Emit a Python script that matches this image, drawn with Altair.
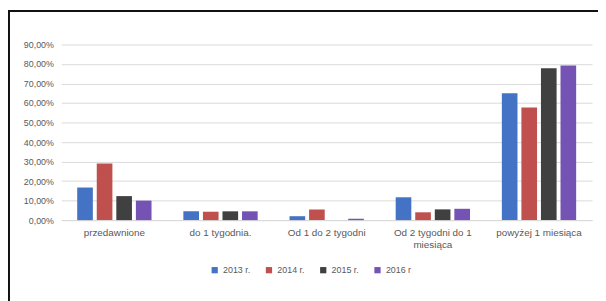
import altair as alt
import pandas as pd

categories = ["przedawnione", "do 1 tygodnia.", "Od 1 do 2 tygodni", "Od 2 tygodni do 1 miesiąca", "powyżej 1 miesiąca"]
years = ["2013 r.", "2014 r.", "2015 r.", "2016 r"]
v2013 = [0.167, 0.045, 0.020, 0.117, 0.650]
v2014 = [0.290, 0.043, 0.055, 0.040, 0.577]
v2015 = [0.123, 0.045, 0.000, 0.055, 0.778]
v2016 = [0.100, 0.045, 0.007, 0.058, 0.792]
colors = ["#4472C4", "#C0504D", "#404040", "#7453B5"]
y_ticks = [0, 0.1, 0.2, 0.3, 0.4, 0.5, 0.6, 0.7, 0.8, 0.9]

rows = []
for series, vals in zip(years, [v2013, v2014, v2015, v2016]):
    for c, v in zip(categories, vals):
        rows.append({"kat": c, "rok": series, "val": v})
df = pd.DataFrame(rows)

W, H = 538, 178
PL, PT = 54, 35

bars = alt.Chart(df).mark_bar().encode(
    x=alt.X("kat:N", sort=categories, title=None,
            scale=alt.Scale(paddingInner=0.3, paddingOuter=0.15),
            axis=alt.Axis(labelAngle=0, ticks=False, domainColor="#D9D9D9",
                          labelColor="#595959", labelFontSize=10, labelFont="Liberation Sans",
                          labelPadding=8, labelLimit=200,
                          labelExpr="datum.value == 'Od 2 tygodni do 1 miesiąca' ? ['Od 2 tygodni do 1', 'miesiąca'] : datum.value")),
    xOffset=alt.XOffset("rok:N", sort=years, scale=alt.Scale(paddingInner=0.2)),
    y=alt.Y("val:Q", title=None,
            scale=alt.Scale(domain=[0, 0.9], nice=False),
            axis=alt.Axis(values=y_ticks, domain=False, ticks=False, gridColor="#D9D9D9",
                          labelColor="#595959", labelFontSize=9, labelFont="Liberation Sans",
                          labelPadding=8,
                          labelExpr="replace(format(datum.value, '.2%'), '.', ',')")),
    color=alt.Color("rok:N", sort=years, title=None,
                    scale=alt.Scale(domain=years, range=colors),
                    legend=alt.Legend(orient="none", direction="horizontal", legendX=151, legendY=224,
                                      symbolType="square", symbolSize=40, symbolStrokeWidth=0,
                                      labelColor="#595959", labelFontSize=9, labelFont="Liberation Sans",
                                      columnPadding=14)),
)

frame_left = alt.Chart(pd.DataFrame({"a": [0]})).mark_rule(color="#111111", strokeWidth=2).encode(
    x=alt.value(-PL + 1), y=alt.value(-PT), y2=alt.value(H + 100))
frame_top = alt.Chart(pd.DataFrame({"a": [0]})).mark_rule(color="#111111", strokeWidth=2).encode(
    x=alt.value(-PL), x2=alt.value(W + 20), y=alt.value(-PT + 1))

chart = alt.layer(bars, frame_left, frame_top).properties(
    width=W, height=H,
    autosize=alt.AutoSizeParams(type="none"),
    padding={"left": PL, "top": PT, "right": 6, "bottom": 80},
    background="white",
).configure_view(stroke=None)

chart.save("out.html", embed_options={"renderer": "svg", "actions": False})
